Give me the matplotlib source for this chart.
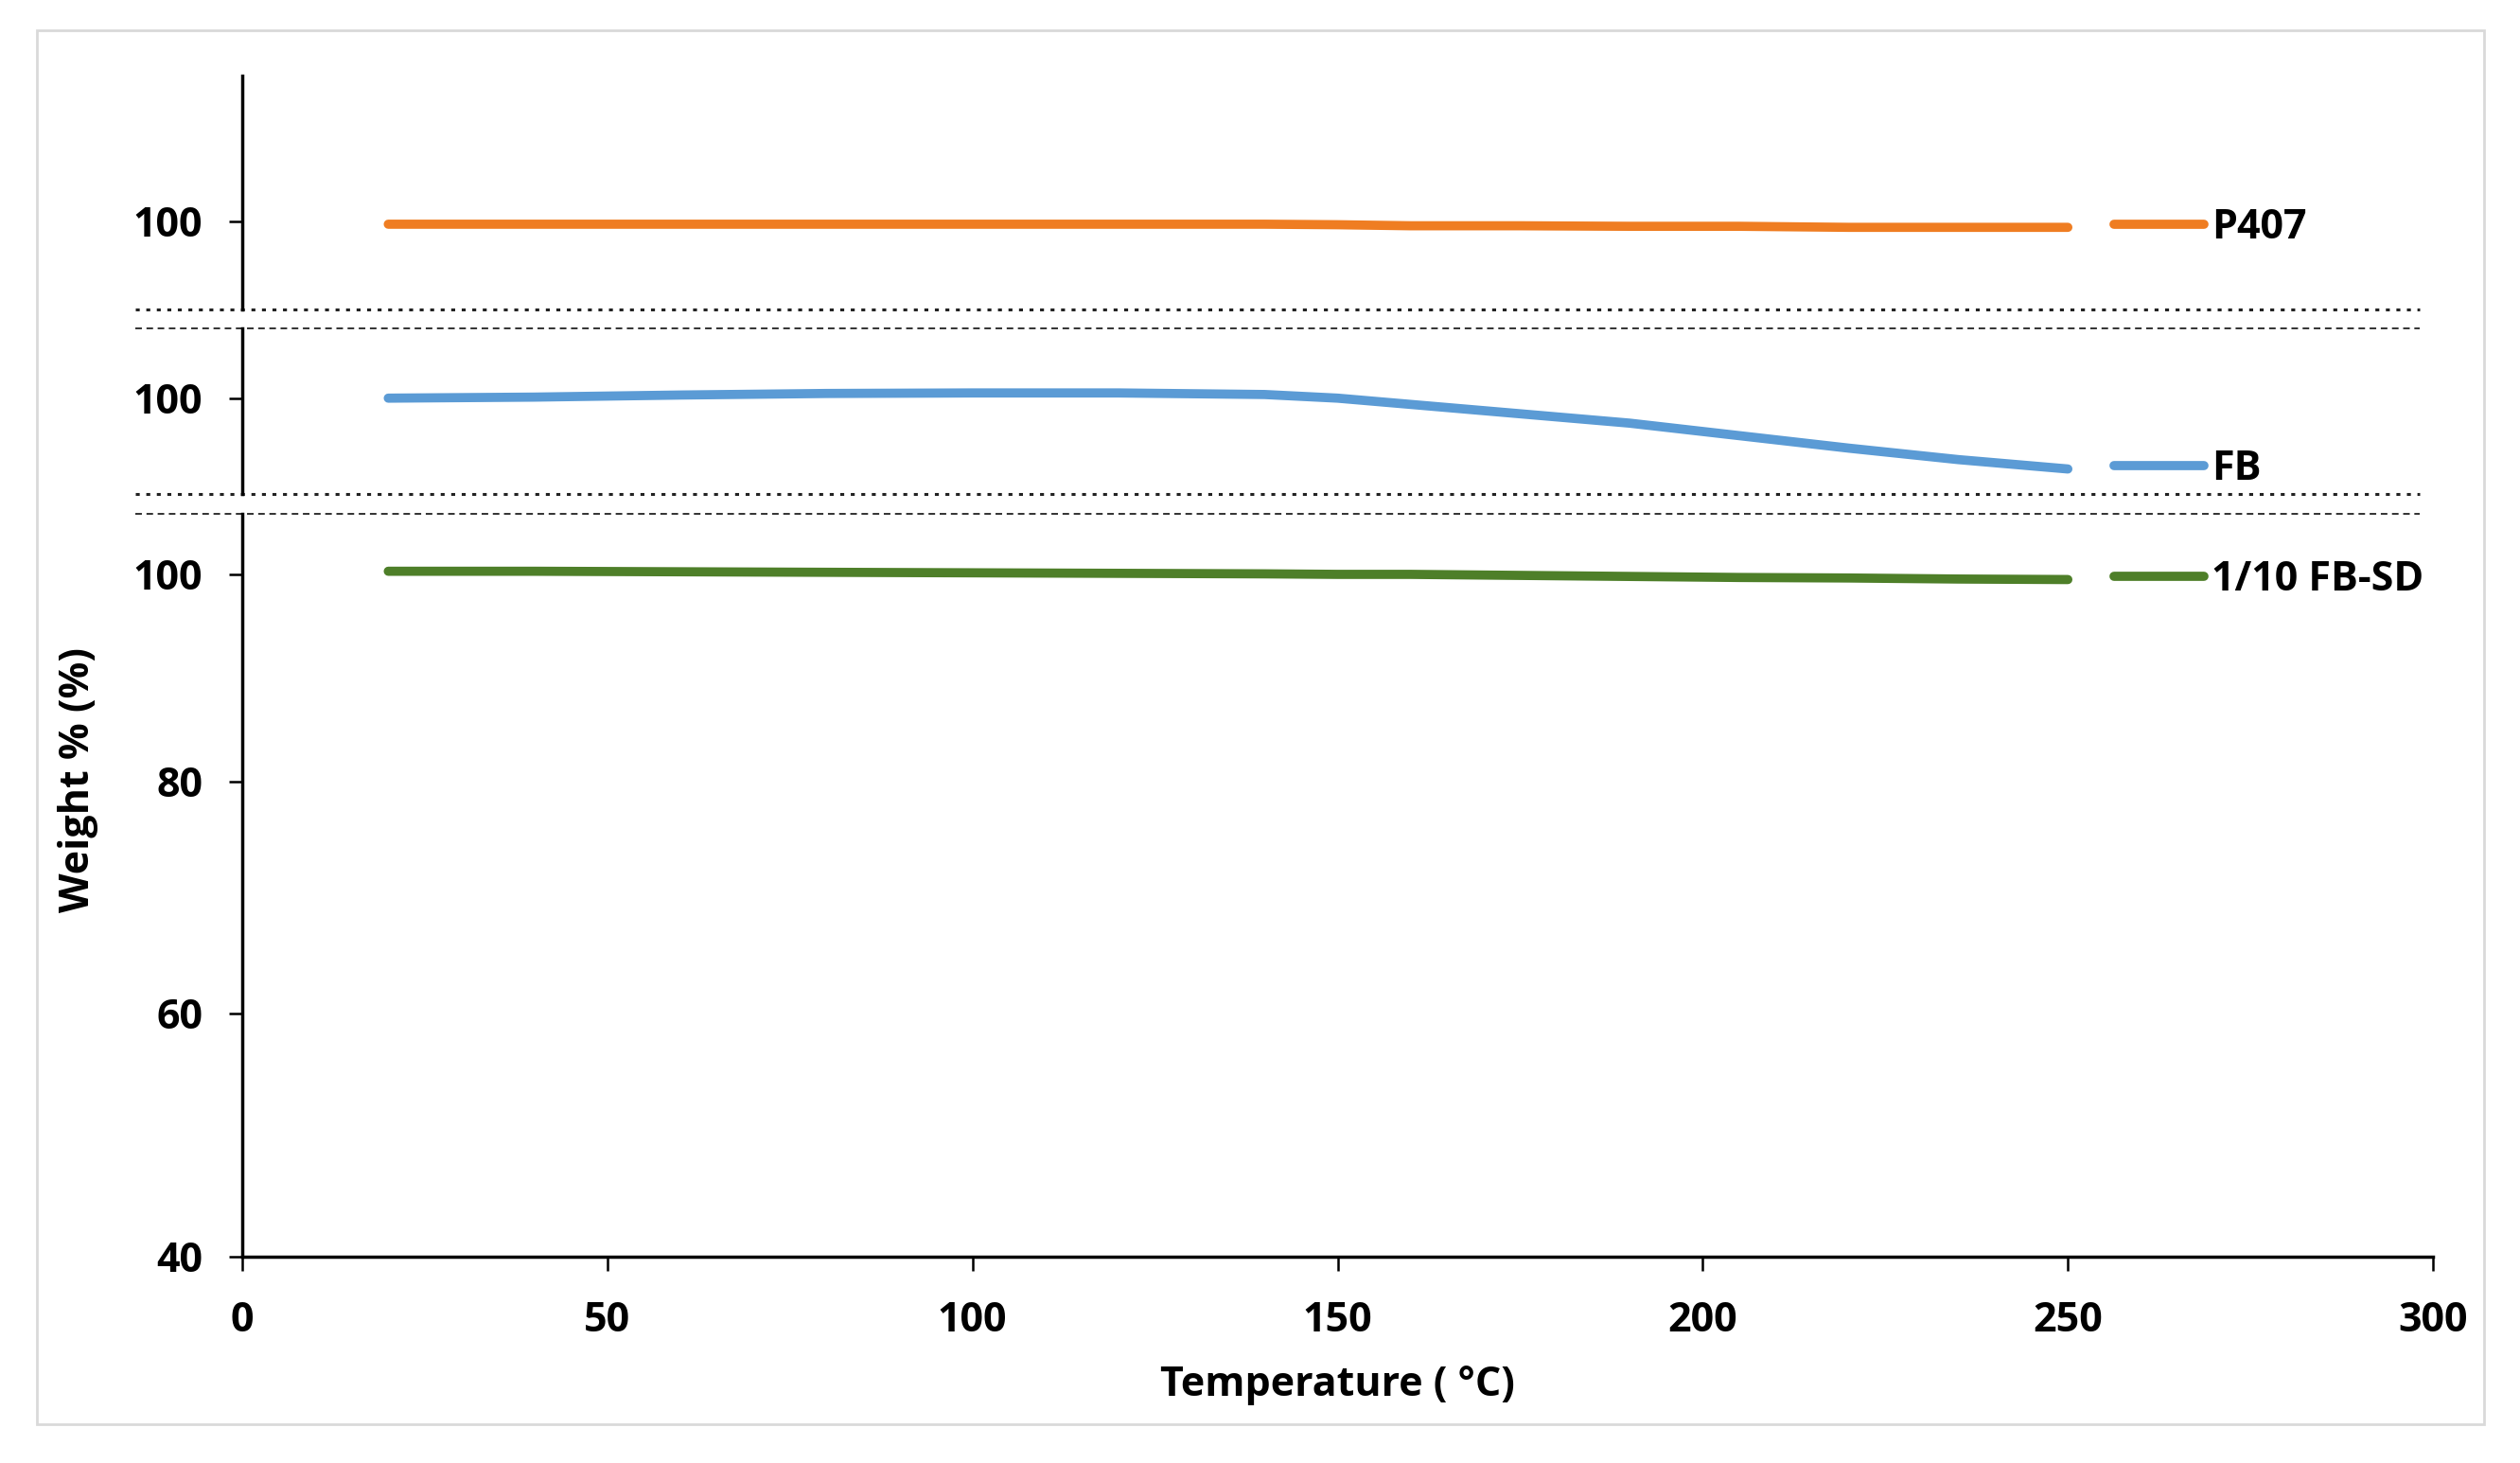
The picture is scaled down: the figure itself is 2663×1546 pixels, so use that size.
import numpy as np
import matplotlib
matplotlib.use('Agg')
import matplotlib.pyplot as plt
from matplotlib.patches import Rectangle
from matplotlib.lines import Line2D

# data
temperature = [20, 40, 60, 80, 100, 120, 140, 150, 160, 175, 190, 205, 220, 235, 250]
weight_p407 = [99.7, 99.7, 99.7, 99.7, 99.7, 99.7, 99.7, 99.65, 99.55, 99.55, 99.5, 99.5, 99.4, 99.4, 99.4]
weight_fb = [100.0, 100.1, 100.3, 100.45, 100.5, 100.5, 100.35, 100.0, 99.4, 98.5, 97.6, 96.4, 95.2, 94.1, 93.2]
weight_sd = [100.3, 100.3, 100.25, 100.2, 100.15, 100.1, 100.05, 100.0, 100.0, 99.9, 99.8, 99.7, 99.65, 99.55, 99.5]
labels = ['P407', 'FB', '1/10 FB-SD']
colors = ['#EF7D22', '#5B9BD5', '#4E7F29']
xticks = [0, 50, 100, 150, 200, 250, 300]
yticks_low = [40, 60, 80, 100]

plt.rcParams['font.family'] = ['Open Sans', 'DejaVu Sans']
plt.rcParams['font.weight'] = 'bold'
plt.rcParams['axes.labelweight'] = 'bold'
plt.rcParams['font.size'] = 31
plt.rcParams['lines.scale_dashes'] = False

W, H = 2663, 1546
fig = plt.figure(figsize=(W / 100, H / 100), dpi=100)

# outer frame
fig.add_artist(Rectangle((39 / W, 1 - 1505 / H), (2625 - 39) / W, (1505 - 32) / H,
                         transform=fig.transFigure, fill=False, ec='#d9d9d9', lw=2))

x0 = 256 / W
wid = (2571 - 256) / W
def frac(top, bot):
    return [x0, 1 - bot / H, wid, (bot - top) / H]

ax_top = fig.add_axes(frac(80, 327))
ax_mid = fig.add_axes(frac(347, 522))
ax_low = fig.add_axes(frac(543, 1328))

# uneven tick spacing of the lower axis (as drawn in the original)
tick_pos = [0, 257, 502, 721]
slope = 10.95
def fwd(v):
    v = np.asarray(v, float)
    return np.where(v > 100, 721 + (v - 100) * slope, np.interp(v, yticks_low, tick_pos))
def inv(p):
    p = np.asarray(p, float)
    return np.where(p > 721, 100 + (p - 721) / slope, np.interp(p, tick_pos, yticks_low))
ax_low.set_yscale('function', functions=(fwd, inv))

axes = [ax_top, ax_mid, ax_low]
series = [weight_p407, weight_fb, weight_sd]
ylims = [(91.55, 113.9), (90.8, 106.7), (40, 105.84)]

for ax, y, lab, col, yl in zip(axes, series, labels, colors, ylims):
    line, = ax.plot(temperature, y, color=col, lw=7, solid_capstyle='round', label=lab)
    ax.set_xlim(0, 300)
    ax.set_ylim(*yl)
    for s in ['top', 'right']:
        ax.spines[s].set_visible(False)
    ax.spines['left'].set_linewidth(2.5)
    ax.spines['bottom'].set_linewidth(2.5)
    ax.tick_params(axis='y', direction='out', length=10, width=1.8, pad=20)
    ax.tick_params(axis='x', direction='out', length=11, width=1.8, pad=22)
    ax.legend(handles=[line], loc='center left', bbox_to_anchor=(256.3, y[-1]),
              bbox_transform=ax.transData, frameon=False, borderpad=0, borderaxespad=0,
              handlelength=2.2, handletextpad=0.2, fontsize=31)

for ax in [ax_top, ax_mid]:
    ax.spines['bottom'].set_visible(False)
    ax.set_xticks([])
    ax.set_yticks([100])

ax_low.set_yticks(yticks_low)
ax_low.set_xticks(xticks)
ax_low.set_xlabel('Temperature ( °C)', labelpad=18, fontweight='bold')

# break marks
for ax in [ax_top, ax_mid]:
    ax.add_line(Line2D([-0.049, 0.994], [0, 0], transform=ax.transAxes, clip_on=False,
                       color='#222222', lw=2.2, dashes=(3, 5)))
for ax in [ax_mid, ax_low]:
    ax.add_line(Line2D([-0.049, 0.994], [1, 1], transform=ax.transAxes, clip_on=False,
                       color='#222222', lw=1.3, dashes=(5, 3.5)))

fig.text(82 / W, 1 - 824 / H, 'Weight % (%)', rotation=90, ha='center', va='center',
         fontweight='bold')

fig.savefig('out.png', dpi=100)
